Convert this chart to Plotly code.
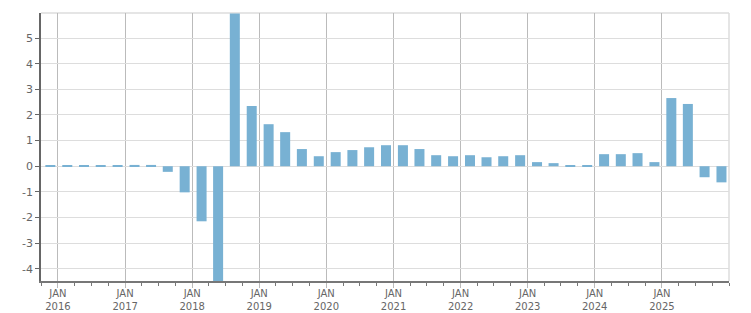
import plotly.graph_objects as go
import pandas as pd

# Quarterly data, Q4 2015 .. Q4 2025
quarters = pd.date_range("2015-10-01", "2025-10-01", freq="QS").strftime("%Y-%m-%d").tolist()
values = [
    0.01, 0.01, 0.01, 0.01, 0.01,      # 2015Q4, 2016
    0.05, 0.05, -0.22, -1.02,          # 2017
    -2.15, -4.8, 5.96, 2.35,           # 2018
    1.64, 1.33, 0.67, 0.39,            # 2019
    0.55, 0.63, 0.74, 0.82,            # 2020
    0.82, 0.67, 0.43, 0.39,            # 2021
    0.43, 0.35, 0.39, 0.43,            # 2022
    0.16, 0.12, 0.02, 0.02,            # 2023
    0.47, 0.47, 0.51, 0.16,            # 2024
    2.66, 2.43, -0.43, -0.63,          # 2025
]

year_ticks = [f"{y}-01-01" for y in range(2016, 2026)]
year_labels = [f"JAN<br>{y}" for y in range(2016, 2026)]
y_ticks = list(range(-4, 6))
y_labels = [str(v) for v in y_ticks]

DAY = 86400000
fig = go.Figure(go.Bar(
    x=quarters, y=values,
    marker=dict(color="#78b1d3", line=dict(width=0)),
    width=54.5 * DAY, offset=23.8 * DAY,
    hoverinfo="x+y",
))

fig.update_layout(
    width=751, height=313,
    margin=dict(l=41, r=22, t=13, b=32, autoexpand=False),
    paper_bgcolor="white", plot_bgcolor="white",
    showlegend=False,
    font=dict(family="DejaVu Sans", size=10, color="#666"),
    xaxis=dict(
        type="date", automargin=False,
        range=["2015-10-01", "2026-01-01"],
        tickmode="array", tickvals=year_ticks, ticktext=year_labels,
        showgrid=True, gridcolor="#bbbbbb", gridwidth=1,
        ticks="outside", ticklen=5, tickcolor="#bbbbbb", tickwidth=1,
        ticklabelstandoff=-3,
        showline=True, linecolor="#777777", linewidth=2,
        minor=dict(dtick="M3", tick0="2016-01-01", ticks="outside", ticklen=3,
                   tickcolor="#777777", tickwidth=1, showgrid=False),
        tickfont=dict(family="DejaVu Sans", size=10, color="#666"),
        zeroline=False, fixedrange=True,
    ),
    yaxis=dict(
        automargin=False,
        range=[-4.48, 5.98],
        tickmode="array", tickvals=y_ticks, ticktext=y_labels,
        showgrid=True, gridcolor="#dddddd", gridwidth=1,
        ticks="outside", ticklen=4, tickcolor="#666666", tickwidth=1,
        showline=True, linecolor="#666666", linewidth=1.5,
        zeroline=False,
        tickfont=dict(family="DejaVu Sans", size=11, color="#666"),
        fixedrange=True,
    ),
    shapes=[
        dict(type="line", xref="paper", yref="paper", x0=0, x1=1, y0=1, y1=1,
             line=dict(color="#dddddd", width=1.5), layer="below"),
        dict(type="line", xref="paper", yref="paper", x0=1, x1=1, y0=0, y1=1,
             line=dict(color="#dddddd", width=1.5), layer="below"),
    ],
)

fig.write_html("out.html")
